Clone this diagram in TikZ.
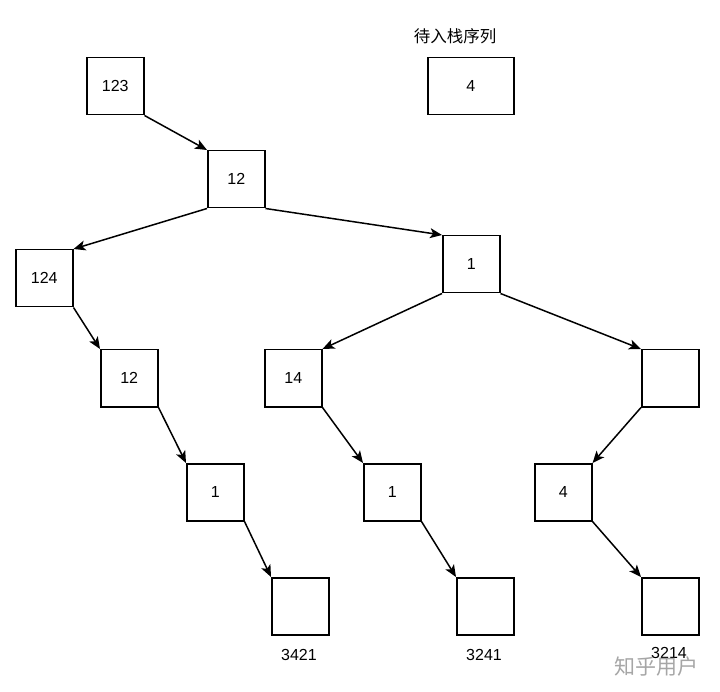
\documentclass[tikz,border=0pt]{standalone}
\usepackage{fontspec}
\setmainfont{Liberation Sans}
\newfontfamily\cjk{Noto Sans CJK SC}
\usetikzlibrary{arrows.meta}
\begin{document}
\begin{tikzpicture}[x=1pt,y=-1pt,
  box/.style={draw,line width=1.5pt,minimum width=57pt,minimum height=57pt,inner sep=0pt,font=\fontsize{16}{18}\selectfont,anchor=north west},
  lbl/.style={font=\fontsize{16}{18}\selectfont,inner sep=0pt},
  arr/.style={line width=1.5pt,-{Stealth[length=12pt,width=10pt,inset=3pt]}}]
\useasboundingbox (0,0) rectangle (720,692);
\node[lbl,font=\cjk\fontsize{16.5}{18}\selectfont] (title) at (455,36) {待入栈序列};
\node[box] (a) at (86,57) {123};
\node[box,minimum width=86pt] (q) at (427,57) {4};
\node[box] (b) at (207,150) {12};
\node[box] (c) at (15,249) {124};
\node[box] (d) at (442,235) {1};
\node[box] (e) at (100,349) {12};
\node[box] (f) at (264,349) {14};
\node[box] (g) at (641,349) {};
\node[box] (h) at (186,463) {1};
\node[box] (i) at (363,463) {1};
\node[box] (j) at (534,463) {4};
\node[box] (k) at (271,577) {};
\node[box] (l) at (456,577) {};
\node[box] (m) at (641,577) {};
\node[lbl] (k1) at (299,655) {3421};
\node[lbl] (l1) at (484,655) {3241};
\node[lbl] (m1) at (669,653) {3214};
\node[font=\cjk\fontsize{21}{23}\selectfont,text=black!35,inner sep=0pt] (wm) at (656,667) {知乎用户};
\draw[arr] (a.south east) -- (b.north west);
\draw[arr] (b.south west) -- (c.north east);
\draw[arr] (b.south east) -- (d.north west);
\draw[arr] (c.south east) -- (e.north west);
\draw[arr] (e.south east) -- (h.north west);
\draw[arr] (h.south east) -- (k.north west);
\draw[arr] (d.south west) -- (f.north east);
\draw[arr] (d.south east) -- (g.north west);
\draw[arr] (f.south east) -- (i.north west);
\draw[arr] (i.south east) -- (l.north west);
\draw[arr] (g.south west) -- (j.north east);
\draw[arr] (j.south east) -- (m.north west);
\end{tikzpicture}
\end{document}
